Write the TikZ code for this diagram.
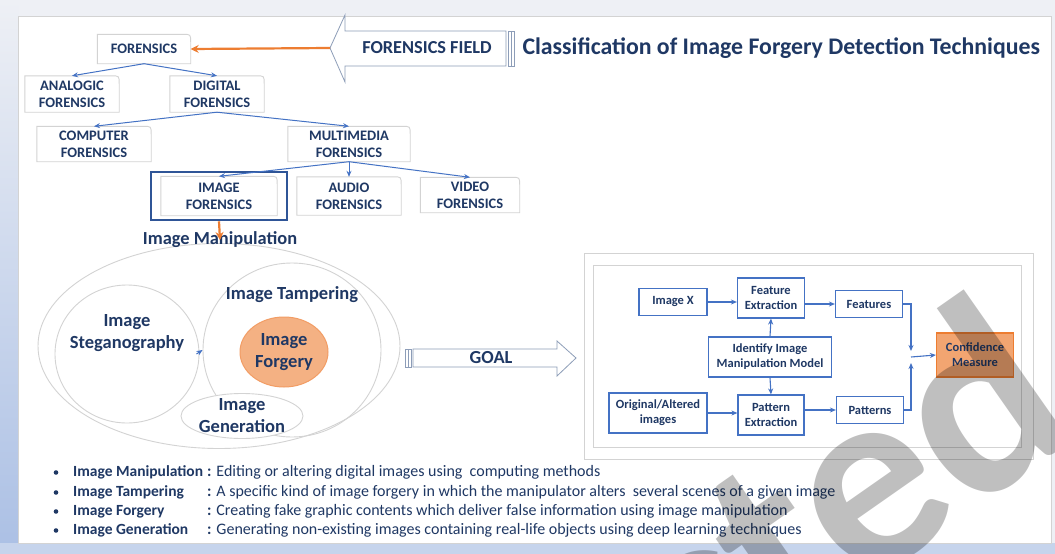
\documentclass[tikz,border=0pt]{standalone}
\usepackage{fontspec}
\setmainfont{Carlito}
\usetikzlibrary{shapes.geometric,arrows.meta}
\definecolor{navy}{HTML}{1F3864}
\definecolor{lineblue}{HTML}{4472C4}
\definecolor{boxblue}{HTML}{2F5597}
\definecolor{orng}{HTML}{ED7D31}
\definecolor{peach}{HTML}{F4B183}
\definecolor{confill}{HTML}{F2A571}
\definecolor{edgegray}{HTML}{D3D3D3}
\definecolor{arrowgray}{HTML}{8D9DB8}
\definecolor{framegray}{HTML}{EEF0F5}
\definecolor{stripblue}{HTML}{C6D4EC}
\tikzset{>={Stealth[length=6pt,width=5pt]}}

\begin{document}
\begin{tikzpicture}[x=1pt,y=-1pt,
    tree/.style={font=\fontsize{14.5}{17}\selectfont\bfseries, text=navy, align=center, inner sep=0pt},
    tab/.style={draw=edgegray, line width=0.9pt},
    tarrow/.style={->, draw=lineblue, line width=1pt},
    orarrow/.style={-{Stealth[length=8pt,width=8pt]}, draw=orng, line width=2.2pt},
    block/.style={draw=arrowgray, fill=white, line width=0.8pt},
    ell/.style={ellipse, draw=edgegray, line width=0.9pt, inner sep=0pt},
    etext/.style={font=\fontsize{18.5}{22}\selectfont\bfseries, text=navy, align=center},
    pbox/.style={draw=lineblue, line width=1.2pt, fill=white, font=\fontsize{12.5}{15}\selectfont\bfseries, text=navy, align=center, inner sep=0pt},
    parrow/.style={->, draw=lineblue, line width=1.1pt},
    bullab/.style={font=\fontsize{15.5}{17}\selectfont\bfseries, text=navy, inner sep=0pt},
    bultxt/.style={font=\fontsize{16}{17}\selectfont, text=navy, inner sep=0pt}
  ]
  \useasboundingbox (0,0) rectangle (1055,554);
  \begin{scope}
  \clip (0,0) rectangle (1055,554);
  % frame
  \fill[framegray] (0,0) rectangle (1055,554);
  \shade[top color=framegray, bottom color=lineblue!45] (0,0) rectangle (18,554);
  \fill[stripblue] (0,543) rectangle (1055,554);
  \draw[draw=edgegray, fill=white] (18,16) rectangle (1051,543);

  % title and field arrow
  \coordinate (fftip) at (330,48);
  \draw[block] (fftip) -- (345,15) -- (345,31) -- (506,31) -- (506,66) -- (345,66) -- (345,82) -- cycle;
  \draw[block] (508,31) rectangle (514,66);
  \draw[arrowgray] (511,31) -- (511,66);
  \node[font=\fontsize{18.3}{20}\selectfont\bfseries, text=navy] (field) at (427,48) {FORENSICS FIELD};
  \node[anchor=west, font=\fontsize{23.8}{26}\selectfont\bfseries, text=navy] (title) at (519,48) {Classification of Image Forgery Detection Techniques};

  % forensics tree
  \node[tree, minimum width=93, minimum height=29] (fo) at (144,49) {FORENSICS};
  \node[tree, minimum width=94, minimum height=36] (an) at (72,94) {ANALOGIC\\FORENSICS};
  \node[tree, minimum width=94, minimum height=36] (di) at (217,94) {DIGITAL\\FORENSICS};
  \node[tree, minimum width=114, minimum height=35] (co) at (94,144) {COMPUTER\\FORENSICS};
  \node[tree, minimum width=122, minimum height=35] (mm) at (349,144) {MULTIMEDIA\\FORENSICS};
  \node[tree, minimum width=116, minimum height=39] (im) at (219,196) {IMAGE\\FORENSICS};
  \node[tree, minimum width=104, minimum height=38] (au) at (349,196) {AUDIO\\FORENSICS};
  \node[tree, minimum width=99, minimum height=35] (vi) at (470,195) {VIDEO\\FORENSICS};
  \foreach \n in {fo,an,di,co,mm,im,au,vi}
    \draw[tab] (\n.north west) -- (\n.south west) -- (\n.south east) -- ([yshift=-8pt]\n.north east)
      .. controls (\n.north east) .. ([xshift=-8pt]\n.north east) -- cycle;
  \node[draw=boxblue, line width=2.6pt, minimum width=136, minimum height=48, inner sep=0pt] (imbox) at (219,196) {};

  \draw[orarrow] (fftip) -- (fo.east);
  \draw[tarrow] (fo.south) -- (an.north);
  \draw[tarrow] (fo.south) -- (di.north);
  \draw[tarrow] (di.south) -- (co.north);
  \draw[tarrow] (di.south) -- (mm.north);
  \draw[tarrow] (mm.south) -- (im.north);
  \draw[tarrow] (mm.south) -- (au.north);
  \draw[tarrow] (mm.south) -- (vi.north);

  % manipulation sets
  \node[ell, minimum width=362, minimum height=205] (manipell) at (219,346) {};
  \node[ell, minimum width=144, minimum height=138] (steg) at (127,354) {};
  \node[ell, minimum width=178, minimum height=174] (tamp) at (292,350) {};
  \node[ell, fill=white, minimum width=122, minimum height=45] (gen) at (242,416) {};
  \node[ell, draw=orng!75, line width=1pt, fill=peach, minimum width=88, minimum height=70] (forg) at (284,352) {};
  \draw[tarrow] ([xshift=-3pt]steg.east) -- (tamp.west);
  \node[font=\fontsize{18.4}{20}\selectfont\bfseries, text=navy] (manip) at (220,240) {Image Manipulation};
  \draw[orarrow] (imbox.south) -- (manip.center);
  \node[etext] (tamptxt) at (292,295) {Image Tampering};
  \node[etext] (stegtxt) at (127,333) {Image\\Steganography};
  \node[etext] (forgtxt) at (284,352) {Image\\Forgery};
  \node[etext] (gentxt) at (242,416) {Image\\Generation};

  % goal arrow
  \draw[block] (413,349) -- (557,349) -- (557,341) -- (576,358) -- (557,376) -- (557,367) -- (413,367) -- cycle;
  \draw[block] (405,349) rectangle (411,367);
  \draw[arrowgray] (408,349) -- (408,367);
  \node[font=\fontsize{18.4}{20}\selectfont\bfseries, text=navy] (goal) at (491,358) {GOAL};

  % detection model
  \draw[edgegray, line width=1pt] (584,253) rectangle (1033,459);
  \draw[edgegray, line width=1pt] (593,265) rectangle (1021,447);
  \node[pbox, minimum width=68, minimum height=27] (imgx) at (673,302) {Image X};
  \node[pbox, minimum width=67, minimum height=40] (fext) at (771,298) {Feature\\Extraction};
  \node[pbox, minimum width=67, minimum height=27] (feat) at (869,304) {Features};
  \node[pbox, minimum width=123, minimum height=40] (ident) at (770,357) {Identify Image\\Manipulation Model};
  \node[pbox, minimum width=98, minimum height=40] (orig) at (658,413) {Original/Altered\\images};
  \node[pbox, minimum width=66, minimum height=40] (pext) at (771,415) {Pattern\\Extraction};
  \node[pbox, minimum width=67, minimum height=27] (patt) at (870,410) {Patterns};
  \node[pbox, draw=orng, fill=confill, minimum width=77, minimum height=44] (conf) at (975,355) {Confidence\\Measure};
  \coordinate (jn) at (911,357);
  \draw[parrow] (imgx.east) -- (fext.west |- imgx.east);
  \draw[parrow] (fext.east |- feat.west) -- (feat.west);
  \draw[parrow] (ident.north) -- (fext.south);
  \draw[parrow] (ident.south) -- (pext.north);
  \draw[parrow] (orig.east) -- (pext.west |- orig.east);
  \draw[parrow] (pext.east |- patt.west) -- (patt.west);
  \draw[parrow] (feat.east) -| ([yshift=6pt]jn);
  \draw[parrow] (patt.east) -| ([yshift=-6pt]jn);
  \draw[parrow] (jn) -- (conf.west);

  % definitions
  \foreach \i/\y/\lab/\txt in {1/472.5/Image Manipulation/Editing or altering digital images using\ \ computing methods,
      2/492.5/Image Tampering/A specific kind of image forgery in which the manipulator alters\ \ several scenes of a given image,
      3/511.5/Image Forgery/Creating fake graphic contents which deliver false information using image manipulation,
      4/530.5/Image Generation/Generating non-existing images containing real-life objects using deep learning techniques}
  {
    \fill[navy] (56,\y) circle (2.3);
    \node[bullab, anchor=west] (lab\i) at (73,\y) {\lab};
    \node[bultxt, anchor=west] (txt\i) at (207,\y) {\textbf{:} \txt};
  }

  % watermark
  \node[font=\fontsize{265}{265}\selectfont\bfseries, text=black, text opacity=0.25, rotate=35, anchor=base east, inner sep=0pt] (wm) at (1084,433) {Retracted};
  \end{scope}
\end{tikzpicture}
\end{document}
